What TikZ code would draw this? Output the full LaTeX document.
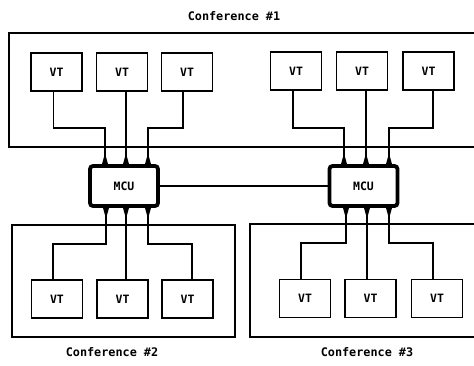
\documentclass[tikz,border=0pt]{standalone}
\usepackage{fontspec}
\setmainfont{DejaVu Sans Mono}
\usetikzlibrary{arrows.meta,calc}
\begin{document}
\begin{tikzpicture}[x=1pt,y=-1pt,
  conf/.style={draw,line width=1.3pt},
  vt/.style={draw,line width=1.4pt,minimum width=51pt,minimum height=38pt,inner sep=0pt,font=\fontsize{11.5}{13}\selectfont\bfseries},
  mcu/.style={draw,line width=3.8pt,rounded corners=3pt,fill=white,minimum width=68pt,minimum height=40pt,inner sep=0pt,font=\fontsize{11.5}{13}\selectfont\bfseries},
  wire/.style={line width=1.5pt},
  port/.style={wire,{Triangle[reversed,length=11pt,width=5.5pt]}-},
  lbl/.style={font=\fontsize{11.8}{14}\selectfont\bfseries}]
\clip (0,0) rectangle (474,366);
\fill[white] (0,0) rectangle (474,366);
% conference areas
\draw[conf] (490,33) -- (9,33) -- (9,147) -- (490,147);
\draw[conf] (12,225) rectangle (235,337);
\draw[conf] (490,224) -- (250,224) -- (250,337) -- (490,337);
\node[lbl] (c1) at (234,16) {Conference \#1};
\node[lbl] (c2) at (112,352) {Conference \#2};
\node[lbl] (c3) at (367,352) {Conference \#3};
% VTs top
\node[vt] (a1) at (56.5,72) {VT};
\node[vt] (a2) at (122,72) {VT};
\node[vt] (a3) at (187,72) {VT};
\node[vt] (b1) at (296,71) {VT};
\node[vt] (b2) at (362,71) {VT};
\node[vt] (b3) at (428.5,71) {VT};
% VTs bottom
\node[vt] (c1v) at (57,299) {VT};
\node[vt] (c2v) at (122.5,299) {VT};
\node[vt] (c3v) at (187.5,299) {VT};
\node[vt] (d1) at (305,298.5) {VT};
\node[vt] (d2) at (370.5,298.5) {VT};
\node[vt] (d3) at (437,298.5) {VT};
% MCUs
\node[mcu] (m1) at (124,186) {MCU};
\node[mcu] (m2) at (363.5,186) {MCU};
\draw[wire,line width=1.8pt] (m1) -- (m2);
% MCU ports
\coordinate (m1t1) at (105,164);
\coordinate (m1t2) at (126,164);
\coordinate (m1t3) at (148,164);
\coordinate (m1b1) at (106,208);
\coordinate (m1b2) at (126,208);
\coordinate (m1b3) at (148,208);
\coordinate (m2t1) at (344,164);
\coordinate (m2t2) at (366,164);
\coordinate (m2t3) at (389,164);
\coordinate (m2b1) at (346,208);
\coordinate (m2b2) at (367,208);
\coordinate (m2b3) at (389,208);
% top-left wiring
\draw[port] (m1t1) -- (m1t1 |- 0,128) -| ([xshift=-3pt]a1.south);
\draw[port] (m1t2) -- (m1t2 |- a2.south);
\draw[port] (m1t3) -- (m1t3 |- 0,128) -| ([xshift=-4pt]a3.south);
% top-right wiring
\draw[port] (m2t1) -- (m2t1 |- 0,128) -| ([xshift=-3pt]b1.south);
\draw[port] (m2t2) -- (m2t2 |- b2.south);
\draw[port] (m2t3) -- (m2t3 |- 0,128) -| ([xshift=4.5pt]b3.south);
% bottom-left wiring
\draw[port] (m1b1) -- (m1b1 |- 0,244) -| ([xshift=-4pt]c1v.north);
\draw[port] (m1b2) -- (m1b2 |- c2v.north);
\draw[port] (m1b3) -- (m1b3 |- 0,244) -| ([xshift=4.5pt]c3v.north);
% bottom-right wiring
\draw[port] (m2b1) -- (m2b1 |- 0,243) -| ([xshift=-4pt]d1.north);
\draw[port] (m2b2) -- (m2b2 |- d2.north);
\draw[port] (m2b3) -- (m2b3 |- 0,243) -| ([xshift=-4pt]d3.north);
\end{tikzpicture}
\end{document}
